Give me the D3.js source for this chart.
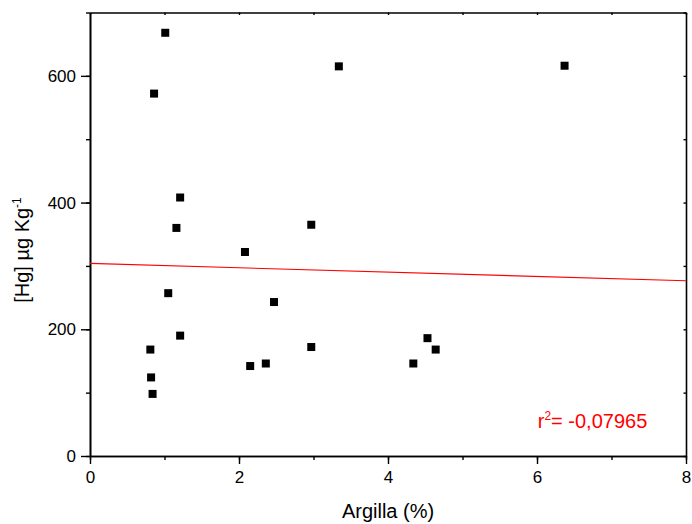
<!DOCTYPE html>
<html>
<head>
<meta charset="utf-8">
<script src="https://cdn.jsdelivr.net/npm/d3@7"></script>
<style>
  body { margin: 0; background: #fff; }
  text { font-family: "Liberation Sans", Arial, sans-serif; }
</style>
</head>
<body>
<div id="chart"></div>
<script>
// Argilla (%) vs [Hg]
const argilla = [1.01, 0.86, 1.21, 1.16, 1.05, 1.21, 0.81, 0.82, 0.84,
                 3.34, 6.37, 2.97, 2.08, 2.47, 2.97, 2.15, 2.36, 4.34, 4.53, 4.64];
const hg = [668, 572, 408, 360, 257, 190, 168, 124, 98,
            615, 616, 365, 322, 243, 172, 142, 146, 146, 186, 168];

// linear fit endpoints
const fitX = [0, 8];
const fitY = [304, 276.5];

const xTicks = [0, 2, 4, 6, 8];
const yTicks = [0, 200, 400, 600];
const rLabel = "-0,07965";

const margin = { top: 12.5, right: 6, bottom: 68, left: 90 },
    width = 692 - margin.left - margin.right,
    height = 524 - margin.top - margin.bottom;

const svg = d3.select("#chart").append("svg")
    .attr("width", 692)
    .attr("height", 524)
    .append("g")
    .attr("transform", `translate(${margin.left},${margin.top})`);

const x = d3.scaleLinear().domain([0, 8]).range([0, width]);
const y = d3.scaleLinear().domain([0, 700]).range([height, 0]);

const minorX = d3.range(0, 8.01, 1);
const minorY = d3.range(0, 701, 100);

function styleAxis(g) {
    g.select(".domain").attr("stroke", "#000").attr("stroke-width", 1.6);
    g.selectAll(".tick line").attr("stroke", "#000").attr("stroke-width", 1.4);
    g.selectAll("text").attr("font-size", "17px").attr("fill", "#000")
        .attr("font-family", "Liberation Sans, Arial, sans-serif");
}

// bottom axis: minor then major
svg.append("g")
    .attr("transform", `translate(0,${height})`)
    .call(d3.axisBottom(x).tickValues(minorX).tickSize(4).tickFormat("").tickSizeOuter(0))
    .call(styleAxis);
svg.append("g")
    .attr("transform", `translate(0,${height})`)
    .call(d3.axisBottom(x).tickValues(xTicks).tickSize(8).tickPadding(7).tickSizeOuter(0).tickFormat(d3.format("d")))
    .call(styleAxis);

// left axis
svg.append("g")
    .call(d3.axisLeft(y).tickValues(minorY).tickSize(4).tickFormat("").tickSizeOuter(0))
    .call(styleAxis);
svg.append("g")
    .call(d3.axisLeft(y).tickValues(yTicks).tickSize(9).tickPadding(5).tickSizeOuter(0).tickFormat(d3.format("d")))
    .call(styleAxis);

// top and right axes, small inward ticks
svg.append("g")
    .call(d3.axisTop(x).tickValues(minorX).tickSize(-2.5).tickFormat("").tickSizeOuter(0))
    .call(styleAxis);
svg.append("g")
    .attr("transform", `translate(${width},0)`)
    .call(d3.axisRight(y).tickValues(minorY).tickSize(-2.5).tickFormat("").tickSizeOuter(0))
    .call(styleAxis);

// fit line
const fitLine = d3.line()
    .x((d, i) => x(fitX[i]))
    .y(d => y(d));
svg.append("path")
    .datum(fitY)
    .attr("d", fitLine)
    .attr("stroke", "#ff0000")
    .attr("stroke-width", 1.1)
    .attr("fill", "none");

// points
const pts = argilla.map((d, i) => ({ x: d, y: hg[i] }));
svg.selectAll(".pt")
    .data(pts)
    .enter().append("rect")
    .attr("class", "pt")
    .attr("x", d => x(d.x) - 4)
    .attr("y", d => y(d.y) - 4)
    .attr("width", 8)
    .attr("height", 8)
    .attr("fill", "#000");

// r2 label
const rt = svg.append("text")
    .attr("x", x(6.01))
    .attr("y", y(44))
    .attr("font-size", "20px")
    .attr("fill", "#ff0000");
rt.append("tspan").text("r");
rt.append("tspan").attr("font-size", "12px").attr("dy", -8).text("2");
rt.append("tspan").attr("dy", 8).text("= " + rLabel);

// axis titles
svg.append("text")
    .attr("x", width / 2)
    .attr("y", height + 62)
    .attr("text-anchor", "middle")
    .attr("font-size", "20px")
    .text("Argilla (%)");

const yt = svg.append("text")
    .attr("transform", "rotate(-90)")
    .attr("x", -(250 - margin.top))
    .attr("y", -61)
    .attr("text-anchor", "middle")
    .attr("font-size", "20px");
yt.append("tspan").text("[Hg] µg Kg");
yt.append("tspan").attr("font-size", "12px").attr("dy", -8).text("-1");
</script>
</body>
</html>
